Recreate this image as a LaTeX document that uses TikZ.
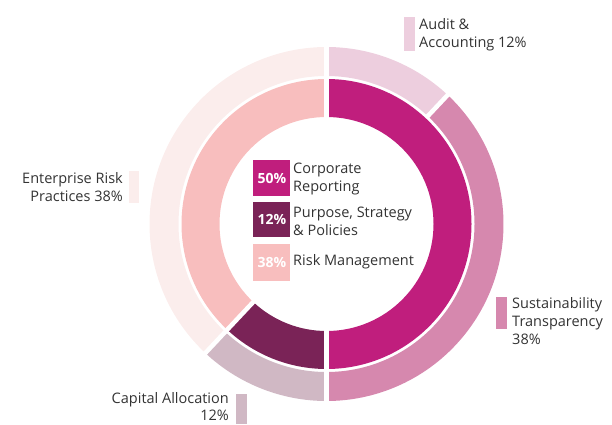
\documentclass[tikz,border=0pt]{standalone}
\usepackage{fontspec}
\setmainfont{Open Sans}
\definecolor{cCR}{HTML}{C01E7D}
\definecolor{cPU}{HTML}{7A2357}
\definecolor{cRM}{HTML}{F8BEBE}
\definecolor{cAU}{HTML}{EDCEDE}
\definecolor{cSU}{HTML}{D688AE}
\definecolor{cCA}{HTML}{D0B8C4}
\definecolor{cER}{HTML}{FBEDEC}
\definecolor{txt}{HTML}{333333}
\tikzset{
  lbl/.style={inner sep=0pt, text=txt, font=\fontsize{14.5}{18}\selectfont},
  pct/.style={inner sep=0pt, text=white, font=\bfseries\fontsize{14}{15}\selectfont},
  sep/.style={white, line width=4.5pt},
}
\newcommand{\sector}[5]{% color, a1, a2, r, R
  \fill[#1] (#2:#5pt) arc[start angle=#2, end angle=#3, radius=#5pt] -- (#3:#4pt) arc[start angle=#3, end angle=#2, radius=#4pt] -- cycle;}
\begin{document}
\begin{tikzpicture}[x=1pt,y=1pt]
\useasboundingbox (0,0) rectangle (612,424);
\begin{scope}[shift={(326.5,200)}]
  % outer ring
  \sector{cAU}{90}{46.8}{148}{177}
  \sector{cSU}{46.8}{-90}{148}{177}
  \sector{cCA}{-90}{-133.2}{148}{177}
  \sector{cER}{-133.2}{-270}{148}{177}
  % inner ring
  \sector{cCR}{90}{-90}{107}{145}
  \sector{cPU}{-90}{-133.2}{107}{145}
  \sector{cRM}{-133.2}{-270}{107}{145}
  % separators
  \draw[sep] (90:100pt) -- (90:182pt);
  \draw[sep] (-90:100pt) -- (-90:182pt);
  \draw[sep] (-133.2:100pt) -- (-133.2:182pt);
  \draw[sep] (46.8:146pt) -- (46.8:182pt);
\end{scope}
% legend
\fill[cCR] (253,264) rectangle (290,228);
\fill[cPU] (253,222) rectangle (290,187);
\fill[cRM] (253,180) rectangle (290,143);
\node[pct] (p1) at (272,246) {50\%};
\node[pct] (p2) at (272,204.5) {12\%};
\node[pct] (p3) at (272,161.5) {38\%};
\node[lbl, anchor=west, align=left] (l1) at (293,245.5) {Corporate\\Reporting};
\node[lbl, anchor=west, align=left] (l2) at (293,203) {Purpose, Strategy\\\& Policies};
\node[lbl, anchor=west, align=left] (l3) at (293,162) {Risk Management};
% outer labels
\fill[cAU] (404,407) rectangle (415,373);
\node[lbl, anchor=west, align=left] (t1) at (419,389) {Audit \&\\Accounting 12\%};
\fill[cER] (129,253) rectangle (139,221);
\node[lbl, anchor=east, align=right] (t2) at (123,237) {Enterprise Risk\\Practices 38\%};
\fill[cCA] (236,30) rectangle (247,0);
\node[lbl, anchor=east, align=right, font=\fontsize{14.5}{17}\selectfont] (t3) at (229,17) {Capital Allocation\\12\%};
\fill[cSU] (496,127) rectangle (507,95);
\node[lbl, anchor=west, align=left] (t4) at (512,103) {Sustainability\\Transparency\\38\%};
\end{tikzpicture}
\end{document}
